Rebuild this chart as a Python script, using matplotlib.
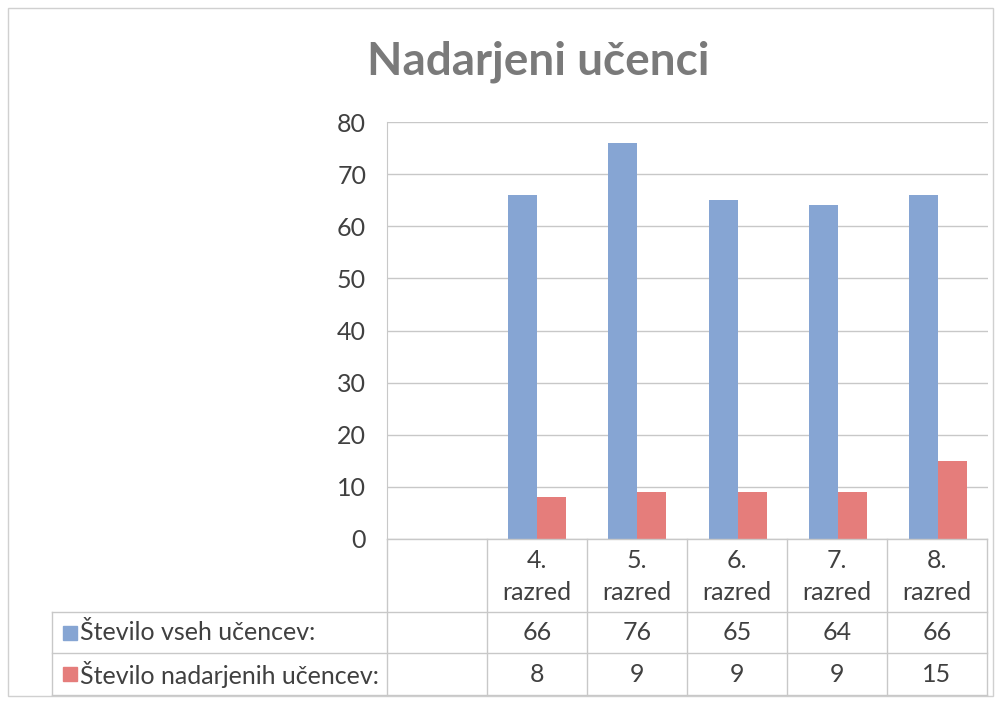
import matplotlib.pyplot as plt
from matplotlib.lines import Line2D
from matplotlib.patches import Rectangle

# Data
categories = ['', '4.\nrazred', '5.\nrazred', '6.\nrazred', '7.\nrazred', '8.\nrazred']
series_names = ['Število vseh učencev:', 'Število nadarjenih učencev:']
vsi = [None, 66, 76, 65, 64, 66]
nadarjeni = [None, 8, 9, 9, 9, 15]
yticks = [0, 10, 20, 30, 40, 50, 60, 70, 80]

blue = '#86a5d3'
red = '#e57d7b'
grid_c = '#c8c8c8'
text_c = '#404040'

plt.rcParams['font.family'] = ['Lato', 'DejaVu Sans']

W, H = 1005, 701
fig = plt.figure(figsize=(W / 100, H / 100), dpi=100)
fig.patch.set_facecolor('white')

# pixel helpers
def fx(px):
    return px / W

def fy(py):
    return 1 - py / H

left, right, top, bottom = 387, 988, 122, 539
ax = fig.add_axes([fx(left), fy(bottom), fx(right) - fx(left), fy(top) - fy(bottom)])

xs = [i for i, v in enumerate(vsi) if v is not None]
bw = 0.29
ax.bar([x - bw / 2 for x in xs], [vsi[x] for x in xs], width=bw, color=blue, zorder=2)
ax.bar([x + bw / 2 for x in xs], [nadarjeni[x] for x in xs], width=bw, color=red, zorder=2)

ax.set_xlim(-0.5, len(categories) - 0.5)
ax.set_ylim(0, 80)
ax.set_yticks(yticks)
ax.tick_params(axis='y', length=0, pad=15, labelsize=18, labelcolor=text_c)
ax.set_xticks([])
ax.yaxis.grid(True, color=grid_c, linewidth=1)
ax.set_axisbelow(True)
for s in ['top', 'right', 'bottom']:
    ax.spines[s].set_visible(False)
ax.spines['left'].set_color(grid_c)

fig.text(fx(538), fy(62), 'Nadarjeni učenci', ha='center', va='center',
         fontsize=33, fontweight='bold', color='#7a7a7a')

# data table under the plot
col_edges = [left + 100 * i for i in range(len(categories) + 1)]
row_edges = [539, 612, 653, 695]
label_left = 52

def hline(y, x0, x1):
    fig.add_artist(Line2D([fx(x0), fx(x1)], [fy(y), fy(y)], color=grid_c, lw=1))

def vline(x, y0, y1):
    fig.add_artist(Line2D([fx(x), fx(x)], [fy(y0), fy(y1)], color=grid_c, lw=1))

hline(row_edges[0], left, col_edges[-1])
for y in row_edges[1:]:
    hline(y, label_left, col_edges[-1])
for x in col_edges:
    vline(x, row_edges[0], row_edges[-1])
vline(label_left, row_edges[1], row_edges[-1])

for i, cat in enumerate(categories):
    cx = (col_edges[i] + col_edges[i + 1]) / 2
    fig.text(fx(cx), fy((row_edges[0] + row_edges[1]) / 2 + 1), cat, ha='center', va='center',
             fontsize=18, color=text_c, linespacing=1.45)

for r, (name, vals, c) in enumerate(zip(series_names, [vsi, nadarjeni], [blue, red])):
    cy = (row_edges[r + 1] + row_edges[r + 2]) / 2
    fig.add_artist(Rectangle((fx(63), fy(cy + 7)), fx(14), 14 / H, color=c,
                             transform=fig.transFigure))
    fig.text(fx(80), fy(cy), name, ha='left', va='center', fontsize=18, color=text_c)
    for i, v in enumerate(vals):
        if v is None:
            continue
        cx = (col_edges[i] + col_edges[i + 1]) / 2
        fig.text(fx(cx), fy(cy), str(v), ha='center', va='center', fontsize=18, color=text_c)

# chart border
fig.add_artist(Rectangle((fx(8), fy(696)), fx(993) - fx(8), fy(8) - fy(696), fill=False,
                         edgecolor='#d0d0d0', lw=1, transform=fig.transFigure))

fig.savefig('out.png', dpi=100)
